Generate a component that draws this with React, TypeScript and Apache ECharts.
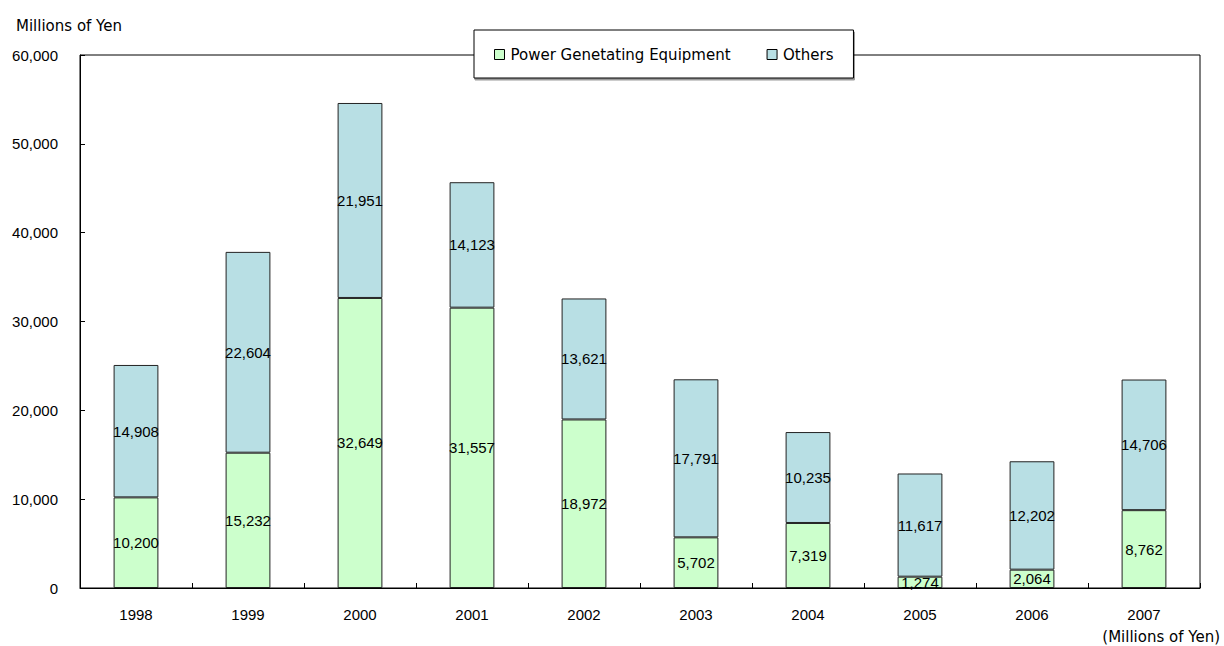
import React, { useEffect, useRef } from "react";
import * as echarts from "echarts";

const years = ["1998", "1999", "2000", "2001", "2002", "2003", "2004", "2005", "2006", "2007"];
const powerEquipment = [10200, 15232, 32649, 31557, 18972, 5702, 7319, 1274, 2064, 8762];
const others = [14908, 22604, 21951, 14123, 13621, 17791, 10235, 11617, 12202, 14706];
const seriesNames = ["Power Genetating Equipment", "Others"];

const TEXT_FONT = "'DejaVu Sans', 'Noto Sans CJK JP', sans-serif";
const NUM_FONT = "'Liberation Sans', Arial, sans-serif";

export default function App() {
  const ref = useRef<HTMLDivElement>(null);
  useEffect(() => {
    if (!ref.current) return;
    const chart = echarts.init(ref.current, undefined, { renderer: "svg" });
    const fmt = (p: any) => Number(p.value).toLocaleString("en-US");
    const label = {
      show: true,
      position: "inside" as const,
      color: "#000",
      fontSize: 15,
      fontFamily: NUM_FONT,
      formatter: fmt,
    };
    chart.setOption({
      animation: false,
      backgroundColor: "#fff",
      textStyle: { fontFamily: TEXT_FONT },
      grid: {
        left: 80,
        right: 24,
        top: 55,
        bottom: 58,
        show: true,
        borderColor: "#000",
        borderWidth: 1,
        backgroundColor: "transparent",
      },
      graphic: [
        {
          type: "text",
          x: 16,
          y: 26,
          style: {
            text: "Millions of Yen",
            fontSize: 15,
            fontFamily: TEXT_FONT,
            fill: "#000",
            verticalAlign: "middle",
          },
        },
        {
          type: "text",
          x: 1220,
          y: 644,
          style: {
            text: "(Millions of Yen)",
            fontSize: 15,
            fontFamily: TEXT_FONT,
            fill: "#000",
            align: "right",
            verticalAlign: "bottom",
          },
        },
      ],
      legend: {
        data: seriesNames,
        left: 474,
        top: 30,
        padding: [17, 20, 16, 20],
        itemGap: 36,
        itemWidth: 10,
        itemHeight: 10,
        icon: "rect",
        itemStyle: { borderColor: "#000", borderWidth: 1 },
        backgroundColor: "#fff",
        borderColor: "#000",
        borderWidth: 1,
        shadowColor: "rgba(0,0,0,0.4)",
        shadowOffsetX: 1,
        shadowOffsetY: 2,
        shadowBlur: 1,
        textStyle: { fontSize: 15, fontFamily: TEXT_FONT, color: "#000", padding: [0, 0, 0, 1] },
      },
      xAxis: {
        type: "category",
        data: years,
        axisLine: { lineStyle: { color: "#000", width: 1 } },
        axisTick: { show: true, inside: true, length: 5, lineStyle: { color: "#000" } },
        axisLabel: { color: "#000", fontSize: 15, fontFamily: NUM_FONT, margin: 19 },
      },
      yAxis: {
        type: "value",
        min: 0,
        max: 60000,
        interval: 10000,
        axisLine: { show: true, lineStyle: { color: "#000", width: 1 } },
        axisTick: { show: true, inside: true, length: 5, lineStyle: { color: "#000" } },
        splitLine: { show: false },
        axisLabel: {
          color: "#000",
          fontSize: 15,
          fontFamily: NUM_FONT,
          margin: 22,
          formatter: (v: number) => v.toLocaleString("en-US"),
        },
      },
      series: [
        {
          name: seriesNames[0],
          type: "bar",
          stack: "total",
          data: powerEquipment,
          barWidth: "40%",
          itemStyle: { color: "#CCFFCC", borderColor: "#222", borderWidth: 1 },
          label,
        },
        {
          name: seriesNames[1],
          type: "bar",
          stack: "total",
          data: others,
          barWidth: "40%",
          itemStyle: { color: "#B8DFE4", borderColor: "#222", borderWidth: 1 },
          label,
        },
      ],
    });
    return () => chart.dispose();
  }, []);
  return (
    <div
      ref={ref}
      style={{ position: "absolute", left: 0, top: 0, width: 1224, height: 646 }}
    />
  );
}
